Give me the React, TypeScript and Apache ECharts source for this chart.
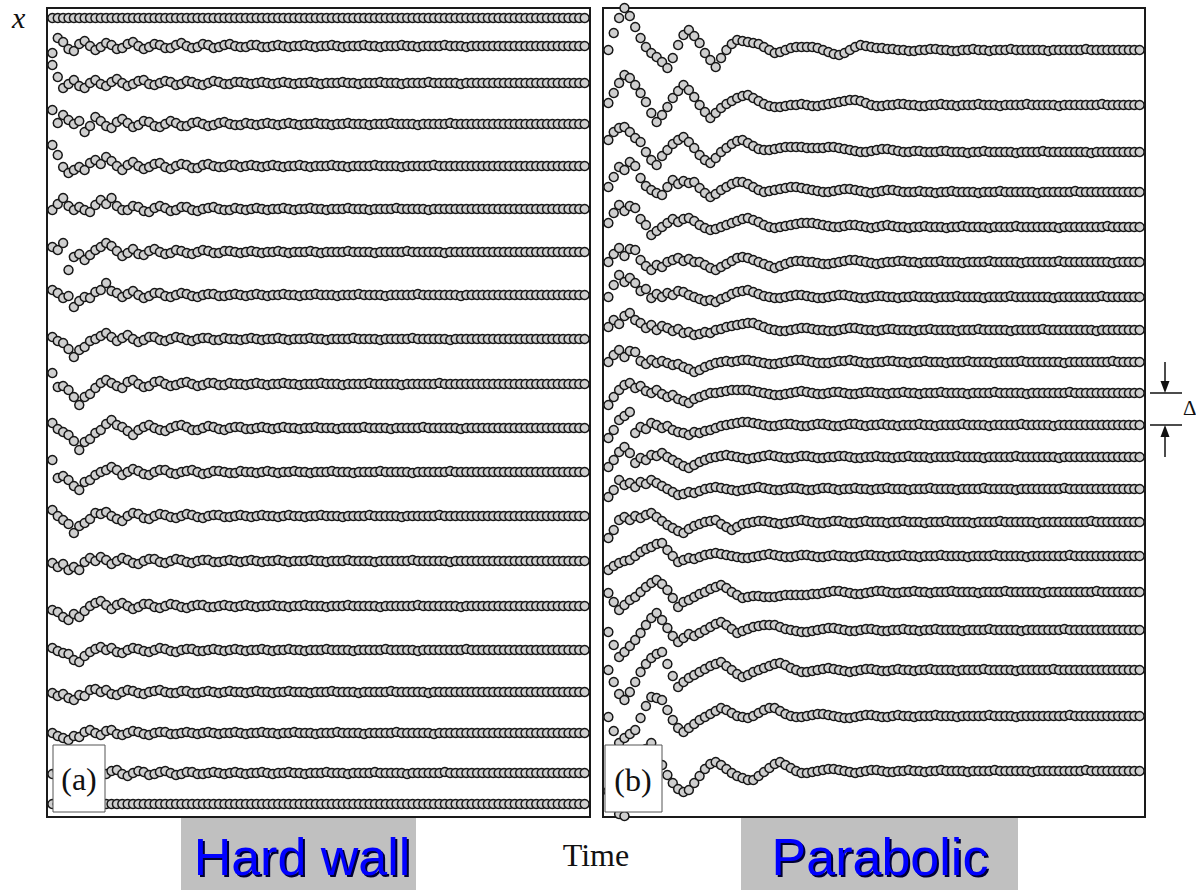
import { useEffect, useRef } from "react";
import * as echarts from "echarts";

// ---------- data ----------
// time steps 0..99 (arbitrary units)
const TIME_STEPS = 100;

// equilibrium position of each particle (position units, measured from the top of the panel)
const hardWallBaselines = [10, 38, 75, 116, 158, 201, 244, 287, 331, 376, 420, 464, 508, 553, 598, 642, 684, 725, 765, 796];
const parabolicBaselines = [42, 97, 144, 184, 219, 254, 289, 322, 354, 385, 417, 449, 481, 514, 548, 584, 622, 662, 708, 763];

// displacement of each particle from its equilibrium position at every time step
const hw01 = [
  0,0,0,0,0,0,0,0,0,0,0,0,0,0,0,0,0,0,0,0,
  0,0,0,0,0,0,0,0,0,0,0,0,0,0,0,0,0,0,0,0,
  0,0,0,0,0,0,0,0,0,0,0,0,0,0,0,0,0,0,0,0,
  0,0,0,0,0,0,0,0,0,0,0,0,0,0,0,0,0,0,0,0,
  0,0,0,0,0,0,0,0,0,0,0,0,0,0,0,0,0,0,0,0];
const hw02 = [
  7,-8,-4,3,5,-2,-5,0,4,1,-3,-1,3,2,-2,-4,0,3,1,-2,
  -1,2,2,-1,-3,0,2,1,-2,-1,2,1,-1,-2,0,1,1,-1,-1,1,
  1,0,-1,0,1,0,0,-1,0,1,0,0,-1,0,1,0,0,0,-1,0,
  0,1,0,0,0,-1,0,0,1,0,0,0,0,-1,0,0,0,1,0,0,
  0,0,0,0,0,0,0,0,0,0,0,0,0,0,0,0,0,0,0,0];
const hw03 = [
  -18,-6,5,1,-3,3,5,0,-3,1,3,-1,-4,0,3,1,-2,-3,1,2,
  0,-2,-1,2,1,-2,-1,1,2,0,-2,-1,1,1,-1,-1,0,1,0,-1,
  0,1,0,-1,0,1,0,0,-1,0,1,0,0,0,-1,0,0,1,0,0,
  0,-1,0,0,0,1,0,0,0,0,-1,0,0,0,0,0,1,0,0,0,
  0,0,0,0,0,0,0,0,0,0,0,0,0,0,0,0,0,0,0,0];
const hw04 = [
  -14,-1,-9,-4,0,-3,8,2,-7,-3,2,4,-2,-5,-1,3,1,-3,-2,2,
  3,0,-3,-1,2,2,-1,-2,0,2,1,-1,-2,0,1,1,-1,0,1,0,
  -1,0,1,0,-1,0,1,0,0,-1,0,0,1,0,0,-1,0,0,0,1,
  0,0,0,-1,0,0,0,0,1,0,0,0,0,0,-1,0,0,0,0,0,
  0,0,0,0,0,0,0,0,0,0,0,0,0,0,0,0,0,0,0,0];
const hw05 = [
  -21,-11,1,7,4,1,4,-3,-6,-2,-9,-5,0,4,-1,-4,0,3,1,-2,
  -3,1,3,0,-2,-1,2,2,-1,-2,0,1,1,-1,-1,1,0,-1,0,1,
  0,-1,0,1,0,0,-1,0,1,0,0,0,-1,0,0,1,0,0,0,0,
  -1,0,0,0,0,1,0,0,0,0,0,-1,0,0,0,0,0,0,0,0,
  0,0,0,0,0,0,0,0,0,0,0,0,0,0,0,0,0,0,0,0];
const hw06 = [
  1,-5,-11,-3,1,-2,1,3,-4,-9,-5,-11,-3,1,1,-3,-2,2,3,-1,
  -3,-1,2,1,-2,-2,1,2,0,-1,-2,0,1,1,-1,0,1,0,-1,0,
  1,0,0,-1,0,1,0,0,-1,0,0,1,0,0,0,-1,0,0,0,1,
  0,0,0,0,-1,0,0,0,0,0,1,0,0,0,0,0,0,0,0,0,
  0,0,0,0,0,0,0,0,0,0,0,0,0,0,0,0,0,0,0,0];
const hw07 = [
  -5,-2,-9,18,5,2,8,3,-2,-5,-9,-6,-1,4,1,-3,2,3,-1,-3,
  0,2,1,-2,-1,1,2,0,-2,-1,1,1,-1,-1,0,1,0,-1,0,1,
  0,0,-1,0,1,0,0,0,-1,0,1,0,0,0,0,-1,0,0,0,0,
  1,0,0,0,0,0,-1,0,0,0,0,0,0,1,0,0,0,0,0,0,
  0,0,0,0,0,0,0,0,0,0,0,0,0,0,0,0,0,0,0,0];
const hw08 = [
  -5,-2,3,1,12,6,2,3,-3,-5,-12,-4,-2,2,-1,-4,0,3,1,-2,
  -2,1,2,0,-2,-1,1,2,0,-1,-1,1,1,0,-1,0,1,0,-1,0,
  1,0,0,-1,0,0,1,0,0,-1,0,0,0,1,0,0,0,-1,0,0,
  0,0,1,0,0,0,0,0,-1,0,0,0,0,0,0,0,1,0,0,0,
  0,0,0,0,0,0,0,0,0,0,0,0,0,0,0,0,0,0,0,0];
const hw09 = [
  -2,2,4,10,18,11,8,2,0,-3,-6,-2,2,-1,-4,0,3,1,-2,-2,
  1,2,0,-2,-1,1,2,0,-1,-1,1,1,-1,0,0,1,0,-1,0,1,
  0,0,-1,0,1,0,0,0,-1,0,0,1,0,0,0,0,-1,0,0,0,
  0,1,0,0,0,0,0,-1,0,0,0,0,0,0,1,0,0,0,0,0,
  0,0,0,0,0,0,0,0,0,0,0,0,0,0,0,0,0,0,0,0];
const hw10 = [
  -11,3,2,6,13,21,13,10,4,-1,-4,-1,2,4,-2,-4,0,3,2,-2,
  -3,0,2,1,-1,-2,0,2,1,-1,-1,1,1,-1,0,0,1,0,-1,0,
  1,0,0,-1,0,0,1,0,0,0,-1,0,0,0,1,0,0,0,0,-1,
  0,0,0,0,0,1,0,0,0,0,0,0,-1,0,0,0,0,0,0,0,
  0,0,0,0,0,0,0,0,0,0,0,0,0,0,0,0,0,0,0,0];
const hw11 = [
  -5,1,4,7,13,22,14,11,5,2,-4,-8,-3,-1,3,7,2,-1,-3,0,
  2,3,0,-2,-3,-1,2,2,0,-2,-1,1,2,0,-1,-1,1,1,0,-1,
  0,1,0,-1,0,0,1,0,0,-1,0,0,0,1,0,0,0,0,-1,0,
  0,0,0,1,0,0,0,0,0,-1,0,0,0,0,0,0,1,0,0,0,
  0,0,0,0,0,0,0,0,0,0,0,0,0,0,0,0,0,0,0,0];
const hw12 = [
  -12,6,4,8,14,18,10,8,3,0,-2,-5,-2,3,0,-3,-1,2,3,0,
  -2,-2,1,2,0,-1,-2,0,2,1,-1,-1,0,1,1,-1,0,0,1,0,
  -1,0,1,0,0,-1,0,0,1,0,0,0,-1,0,0,0,1,0,0,0,
  0,-1,0,0,0,0,0,1,0,0,0,0,0,0,-1,0,0,0,0,0,
  0,0,0,0,0,0,0,0,0,0,0,0,0,0,0,0,0,0,0,0];
const hw13 = [
  -6,0,4,8,17,10,7,3,-3,-2,-4,0,3,5,0,-3,-2,2,3,0,
  -2,-1,1,2,0,-2,-1,1,2,0,-1,-1,1,1,0,-1,0,1,0,-1,
  0,0,1,0,-1,0,0,1,0,0,-1,0,0,0,1,0,0,0,0,-1,
  0,0,0,0,0,1,0,0,0,0,0,0,-1,0,0,0,0,0,0,0,
  0,0,0,0,0,0,0,0,0,0,0,0,0,0,0,0,0,0,0,0];
const hw14 = [
  2,6,3,9,6,9,1,-3,0,-4,-1,3,0,-3,-1,2,3,0,-2,-2,
  1,2,0,-2,-1,1,2,0,-1,-1,1,1,0,-1,0,1,0,-1,0,1,
  0,0,-1,0,1,0,0,0,-1,0,0,1,0,0,0,-1,0,0,0,0,
  1,0,0,0,0,0,0,-1,0,0,0,0,0,0,1,0,0,0,0,0,
  0,0,0,0,0,0,0,0,0,0,0,0,0,0,0,0,0,0,0,0];
const hw15 = [
  4,6,11,14,8,11,5,0,-3,-5,-1,3,-1,-3,0,3,1,-2,-2,1,
  2,0,-2,-1,1,2,0,-1,-1,1,1,0,-1,0,1,0,-1,0,1,0,
  0,-1,0,0,1,0,0,-1,0,0,0,1,0,0,0,-1,0,0,0,0,
  0,1,0,0,0,0,0,0,-1,0,0,0,0,0,0,0,1,0,0,0,
  0,0,0,0,0,0,0,0,0,0,0,0,0,0,0,0,0,0,0,0];
const hw16 = [
  -2,1,3,4,10,12,6,2,-1,-3,0,-2,2,3,0,-2,-1,1,2,0,
  -2,-1,1,2,0,-1,-1,1,1,0,-1,0,1,0,-1,0,1,0,0,-1,
  0,1,0,0,-1,0,0,1,0,0,0,-1,0,0,0,0,1,0,0,0,
  0,0,-1,0,0,0,0,0,1,0,0,0,0,0,0,0,0,-1,0,0,
  0,0,0,0,0,0,0,0,0,0,0,0,0,0,0,0,0,0,0,0];
const hw17 = [
  1,4,2,6,8,3,4,-2,-3,0,-2,2,3,0,-2,-1,1,2,0,-1,
  -2,0,1,1,-1,-1,1,1,0,-1,0,1,0,-1,0,0,1,0,-1,0,
  0,1,0,0,-1,0,0,0,1,0,0,0,-1,0,0,0,0,1,0,0,
  0,0,0,-1,0,0,0,0,0,0,1,0,0,0,0,0,0,0,0,0,
  0,0,0,0,0,0,0,0,0,0,0,0,0,0,0,0,0,0,0,0];
const hw18 = [
  0,3,5,7,3,4,-1,-3,0,2,-2,-3,1,2,0,-2,-1,1,2,0,
  -1,-1,1,1,0,-1,0,1,0,-1,0,1,0,0,-1,0,1,0,0,-1,
  0,0,1,0,0,-1,0,0,0,1,0,0,0,-1,0,0,0,0,1,0,
  0,0,0,0,-1,0,0,0,0,0,0,1,0,0,0,0,0,0,0,0,
  0,0,0,0,0,0,0,0,0,0,0,0,0,0,0,0,0,0,0,0];
const hw19 = [
  1,-2,3,-3,2,4,0,-3,-1,3,1,-2,-3,1,3,0,-2,-1,2,1,
  -1,-2,0,2,1,-1,-1,1,1,0,-1,0,1,0,-1,0,1,0,0,-1,
  0,1,0,0,-1,0,0,1,0,0,0,-1,0,0,0,1,0,0,0,0,
  -1,0,0,0,0,0,1,0,0,0,0,0,0,-1,0,0,0,0,0,0,
  0,0,0,0,0,0,0,0,0,0,0,0,0,0,0,0,0,0,0,0];
const hw20 = [
  0,0,0,0,0,0,0,0,0,0,0,0,0,0,0,0,0,0,0,0,
  0,0,0,0,0,0,0,0,0,0,0,0,0,0,0,0,0,0,0,0,
  0,0,0,0,0,0,0,0,0,0,0,0,0,0,0,0,0,0,0,0,
  0,0,0,0,0,0,0,0,0,0,0,0,0,0,0,0,0,0,0,0,
  0,0,0,0,0,0,0,0,0,0,0,0,0,0,0,0,0,0,0,0];

const pb01 = [
  0,-17,-32,-42,-34,-23,-12,-3,3,7,12,18,8,-5,-15,-20,-14,-7,3,10,
  17,8,0,-6,-10,-9,-8,-7,-6,-3,0,3,2,0,-2,-3,-3,-3,-3,-2,
  0,2,4,5,3,0,-3,-5,-4,-3,-2,-2,-1,-1,0,0,1,1,0,0,
  -1,-1,0,0,1,1,0,0,-1,0,0,1,0,0,0,-1,0,0,0,0,
  0,0,1,0,0,0,0,0,0,-1,0,0,0,0,0,0,0,0,0,0];
const pb02 = [
  -2,-12,-22,-30,-27,-20,-12,-3,8,17,10,2,-7,-14,-20,-15,-8,0,7,13,
  8,3,-1,-4,-7,-9,-10,-7,-4,-1,1,2,2,1,0,0,-1,0,1,1,
  0,-1,-2,-3,-4,-5,-5,-4,-2,0,1,1,0,0,-1,-1,0,0,1,1,
  0,0,-1,0,0,1,0,0,0,-1,0,0,0,1,0,0,0,0,-1,0,
  0,0,0,0,1,0,0,0,0,0,0,0,-1,0,0,0,0,0,0,0];
const pb03 = [
  -12,-20,-24,-25,-20,-14,-10,0,8,13,4,-2,-8,-12,-15,-10,-4,3,8,11,
  6,0,-4,-8,-11,-12,-9,-6,-3,-2,-2,-3,-4,-5,-5,-5,-5,-4,-4,-4,
  -4,-5,-5,-4,-3,-2,-1,0,0,-1,-2,-3,-3,-2,-1,0,0,-1,-1,0,
  0,0,-1,-1,0,0,0,1,0,0,-1,0,0,0,0,0,1,0,0,0,
  0,-1,0,0,0,0,0,0,0,0,1,0,0,0,0,0,0,0,0,0];
const pb04 = [
  -5,-15,-25,-22,-30,-26,-14,-6,-2,1,3,-5,-12,-8,-11,-9,-10,-4,1,5,
  2,-2,-5,-8,-10,-10,-8,-5,-2,0,-1,-2,-3,-4,-5,-5,-4,-3,-2,-1,
  0,0,-1,-2,-3,-3,-2,-1,0,1,0,-1,-2,-2,-1,0,0,0,-1,0,
  0,1,0,0,-1,0,0,0,0,1,0,0,0,-1,0,0,0,0,0,0,
  1,0,0,0,0,0,0,-1,0,0,0,0,0,0,0,0,0,0,0,0];
const pb05 = [
  -4,-14,-22,-16,-21,-19,-8,-2,8,4,0,-4,-8,-5,-8,-9,-6,-2,1,3,
  2,0,-2,-4,-6,-8,-9,-7,-5,-2,0,1,0,-1,-2,-3,-4,-4,-4,-3,
  -2,-1,0,0,-1,-2,-2,-1,0,1,0,-1,-2,-1,0,0,1,0,0,-1,
  0,0,0,1,0,0,-1,0,0,0,0,1,0,0,0,0,-1,0,0,0,
  0,0,0,0,1,0,0,0,0,0,0,0,0,-1,0,0,0,0,0,0];
const pb06 = [
  0,-8,-14,-6,-13,-12,-2,4,8,3,5,0,-2,-4,-1,-3,0,0,3,6,
  8,5,2,-1,-4,-5,-4,-2,0,2,4,6,4,2,0,-1,-1,0,0,1,
  2,2,1,0,-1,-2,-2,-1,0,1,2,1,0,0,-1,-1,0,0,1,0,
  0,0,-1,0,0,0,1,0,0,0,0,-1,0,0,0,0,0,1,0,0,
  0,0,0,0,-1,0,0,0,0,0,0,0,0,0,1,0,0,0,0,0];
const pb07 = [
  0,-12,-22,-15,-19,-14,-6,-8,1,-3,0,-4,-2,-6,-5,-2,0,2,4,3,
  5,2,0,-3,-5,-6,-7,-5,-3,-1,0,1,1,0,-1,-2,-2,-1,0,1,
  1,0,-1,-2,-2,-1,0,1,1,0,-1,-1,0,0,1,0,0,-1,0,0,
  0,1,0,0,0,-1,0,0,0,0,1,0,0,0,0,-1,0,0,0,0,
  0,0,0,1,0,0,0,0,0,0,0,0,-1,0,0,0,0,0,0,0];
const pb08 = [
  -3,-10,-6,-14,-17,-10,-7,-2,-5,0,-4,-2,1,-1,3,2,5,4,2,3,
  0,-1,-3,-4,-5,-6,-7,-7,-5,-3,-1,0,1,1,0,-1,-2,-2,-1,0,
  0,1,1,0,-1,-2,-2,-1,0,0,1,0,-1,-1,0,0,0,1,0,0,
  -1,0,0,0,0,1,0,0,0,-1,0,0,0,0,0,1,0,0,0,0,
  0,-1,0,0,0,0,0,0,0,0,0,1,0,0,0,0,0,0,0,0];
const pb09 = [
  0,-7,-12,-5,-11,-10,-1,2,-2,1,-1,1,3,2,5,7,10,8,5,3,
  1,0,-1,0,-1,-2,-2,-1,0,1,2,2,1,0,-1,-2,-2,-1,0,1,
  1,1,0,-1,-1,-2,-1,0,1,1,0,0,-1,-1,0,0,1,0,0,-1,
  0,0,0,1,0,0,0,-1,0,0,0,0,1,0,0,0,0,-1,0,0,
  0,0,0,0,0,1,0,0,0,0,0,0,0,0,-1,0,0,0,0,0];
const pb10 = [
  12,4,-3,-8,-10,-5,-7,-2,0,-3,1,4,2,6,8,10,6,4,2,0,
  0,-1,-2,-3,-3,-3,-3,-2,-1,0,1,2,2,1,0,-1,-2,-1,0,1,
  1,0,-1,-1,0,1,1,0,-1,-1,0,0,1,0,0,-1,0,0,1,0,
  0,0,-1,0,0,0,0,1,0,0,0,0,-1,0,0,0,0,0,1,0,
  0,0,0,0,0,0,-1,0,0,0,0,0,0,0,0,0,0,0,0,0];
const pb11 = [
  13,5,-5,-9,-13,8,2,4,-2,0,3,1,5,7,8,10,7,8,6,5,
  3,1,0,-1,-2,-3,-3,-2,-1,0,1,1,0,-1,-1,0,1,1,0,-1,
  -1,0,1,1,0,-1,-1,0,1,0,0,-1,0,0,1,0,0,0,-1,0,
  0,1,0,0,0,0,-1,0,0,0,0,1,0,0,0,0,0,-1,0,0,
  0,0,0,1,0,0,0,0,0,0,0,0,0,0,0,0,0,0,0,0];
const pb12 = [
  10,3,-5,-10,-4,6,1,3,-2,-1,-4,0,3,6,9,11,8,5,3,1,
  0,-1,-2,-1,0,1,2,1,0,-1,-2,-1,0,1,1,0,-1,-1,0,1,
  1,0,0,-1,-1,0,1,1,0,0,-1,0,0,1,0,0,-1,0,0,0,
  1,0,0,0,0,-1,0,0,0,0,1,0,0,0,0,0,-1,0,0,0,
  0,0,0,0,1,0,0,0,0,0,0,0,0,0,0,0,0,0,0,0];
const pb13 = [
  8,1,-9,-4,-6,-2,-7,-5,-9,-6,-3,0,3,6,5,3,4,2,0,-1,
  -2,-1,0,1,2,1,0,-1,-2,-1,0,1,1,0,-1,-1,0,1,1,0,
  -1,-1,0,1,0,0,-1,0,0,1,0,0,-1,0,0,0,1,0,0,0,
  -1,0,0,0,0,1,0,0,0,0,-1,0,0,0,0,0,1,0,0,0,
  0,0,0,0,0,-1,0,0,0,0,0,0,0,0,0,0,0,0,0,0];
const pb14 = [
  16,8,-2,-5,-2,-6,-4,-7,-9,-5,-1,3,6,9,11,7,4,2,0,-1,
  -2,2,5,8,5,2,1,0,-1,-1,0,1,2,1,0,-1,-2,-1,0,1,
  1,0,-1,-1,0,1,1,0,-1,0,0,0,1,0,0,-1,0,0,0,1,
  0,0,0,-1,0,0,0,0,1,0,0,0,0,-1,0,0,0,0,0,0,
  1,0,0,0,0,0,0,0,0,0,-1,0,0,0,0,0,0,0,0,0];
const pb15 = [
  14,10,7,5,4,0,-4,-7,-9,-12,-13,-6,0,6,4,2,3,1,-1,-2,
  -3,-2,-1,0,1,2,2,1,0,-1,-2,-1,0,1,1,0,-1,-1,0,1,
  1,0,-1,0,0,1,1,0,-1,-1,0,0,1,0,0,-1,0,0,1,0,
  0,0,-1,0,0,0,0,1,0,0,0,0,-1,0,0,0,0,0,1,0,
  0,0,0,0,0,0,-1,0,0,0,0,0,0,0,0,0,0,0,0,0];
const pb16 = [
  1,10,18,13,8,5,0,-5,-9,-12,-8,-2,6,15,10,8,5,2,0,-3,
  -5,-7,-4,0,3,6,5,4,4,5,5,5,4,3,3,3,3,3,2,2,
  1,0,-1,-1,0,1,2,2,1,0,-1,-1,0,1,1,0,0,-1,0,0,
  1,0,0,0,-1,0,0,0,0,1,0,0,0,0,-1,0,0,0,0,0,
  0,1,0,0,0,0,0,0,0,0,0,-1,0,0,0,0,0,0,0,0];
const pb17 = [
  2,15,27,22,16,10,3,-5,-12,-17,-10,-2,6,12,8,4,6,3,0,-3,
  -6,-8,-5,-1,3,1,-1,-3,-4,-5,-5,-5,-3,-1,0,1,2,2,1,0,
  -1,-2,-2,-1,0,1,1,0,-1,-1,0,1,1,0,0,-1,0,0,1,0,
  0,-1,0,0,0,0,1,0,0,0,0,-1,0,0,0,0,0,1,0,0,
  0,0,0,0,0,-1,0,0,0,0,0,0,0,0,0,0,0,0,0,0];
const pb18 = [
  0,12,24,30,22,12,2,-6,-12,-16,-18,-6,6,17,12,8,5,2,-1,-4,
  -6,-8,-4,0,4,7,5,2,0,-2,-4,-6,-7,-5,-2,0,2,2,1,0,
  -1,-2,-1,0,1,2,1,0,-1,-1,0,1,1,0,-1,0,0,1,0,0,
  -1,0,0,0,0,1,0,0,0,0,-1,0,0,0,0,0,1,0,0,0,
  0,0,0,-1,0,0,0,0,0,0,0,0,0,0,0,0,0,0,0,0];
const pb19 = [
  1,15,27,22,18,14,2,-10,-19,-18,-16,-6,4,12,16,12,8,4,1,-2,
  -5,-8,-6,-3,0,1,2,0,-3,-6,-8,-8,-5,-2,0,1,1,0,-1,-2,
  -2,-1,0,1,2,2,1,0,-1,-1,0,1,1,0,-1,0,0,1,0,0,
  0,-1,0,0,0,1,0,0,0,0,0,-1,0,0,0,0,1,0,0,0,
  0,0,0,0,0,0,-1,0,0,0,0,0,0,0,0,0,0,0,0,0];
const pb20 = [
  20,35,43,45,30,10,-10,-22,-28,-20,-6,4,12,18,21,19,12,5,-2,-7,
  -9,-6,-2,2,5,7,9,9,5,1,-3,-7,-9,-6,-3,0,2,2,1,0,
  -1,-2,-2,-1,0,1,2,1,0,-1,-1,0,1,1,0,0,-1,0,0,1,
  0,0,-1,0,0,0,0,1,0,0,0,0,-1,0,0,0,0,0,0,1,
  0,0,0,0,0,0,0,0,0,-1,0,0,0,0,0,0,0,0,0,0];

const hardWallOffsets = [hw01, hw02, hw03, hw04, hw05, hw06, hw07, hw08, hw09, hw10,
  hw11, hw12, hw13, hw14, hw15, hw16, hw17, hw18, hw19, hw20];
const parabolicOffsets = [pb01, pb02, pb03, pb04, pb05, pb06, pb07, pb08, pb09, pb10,
  pb11, pb12, pb13, pb14, pb15, pb16, pb17, pb18, pb19, pb20];

const panelLabels = ["(a)", "(b)"];
const trapLabels = ["Hard wall", "Parabolic"];
const timeLabel = "Time";
const positionLabel = "x";
const spacingLabel = "\u0394";

// ---------- chart ----------
const POSITION_RANGE = 809;

function buildSeries(baselines: number[], offsets: number[][], gridIndex: number) {
  return offsets.map((track, i) => ({
    type: "scatter",
    xAxisIndex: gridIndex,
    yAxisIndex: gridIndex,
    symbol: "circle",
    symbolSize: 9,
    clip: false,
    silent: true,
    itemStyle: { color: "#cfcfcf", borderColor: "#161616", borderWidth: 1.5, opacity: 1 },
    data: track.map((d, t) => [t, baselines[i] + d]),
  }));
}

export default function App() {
  const ref = useRef<HTMLDivElement>(null);

  useEffect(() => {
    document.body.style.margin = "0";
    if (!ref.current) return;
    const chart = echarts.init(ref.current, undefined, { renderer: "svg" });
    const serif = '"Liberation Serif", "DejaVu Serif", serif';
    const sans = '"Liberation Sans", Arial, sans-serif';

    const xAxisBase = { type: "value", min: -1, max: TIME_STEPS, show: false };
    const yAxisBase = { type: "value", min: 0, max: POSITION_RANGE, inverse: true, show: false };

    const option: any = {
      animation: false,
      backgroundColor: "#ffffff",
      grid: [
        { left: 47, top: 8, width: 543, height: 809, show: true, borderColor: "#1a1a1a", borderWidth: 2, backgroundColor: "transparent" },
        { left: 603, top: 8, width: 542, height: 809, show: true, borderColor: "#1a1a1a", borderWidth: 2, backgroundColor: "transparent" },
      ],
      xAxis: [
        { ...xAxisBase, gridIndex: 0 },
        { ...xAxisBase, gridIndex: 1 },
      ],
      yAxis: [
        { ...yAxisBase, gridIndex: 0 },
        { ...yAxisBase, gridIndex: 1 },
      ],
      series: [
        ...buildSeries(hardWallBaselines, hardWallOffsets, 0),
        ...buildSeries(parabolicBaselines, parabolicOffsets, 1),
      ],
      graphic: [
        // axis name x
        { type: "text", x: 12, y: 17, z: 100, style: { text: positionLabel, font: `italic 30px ${serif}`, fill: "#111", textAlign: "left", textVerticalAlign: "middle" } },
        // panel labels
        { type: "rect", z: 100, shape: { x: 53, y: 745, width: 52, height: 67 }, style: { fill: "#fff", stroke: "#555", lineWidth: 1 } },
        { type: "text", x: 79, y: 779, z: 101, style: { text: panelLabels[0], font: `32px ${serif}`, fill: "#111", textAlign: "center", textVerticalAlign: "middle" } },
        { type: "rect", z: 100, shape: { x: 605, y: 745, width: 57, height: 67 }, style: { fill: "#fff", stroke: "#555", lineWidth: 1 } },
        { type: "text", x: 633, y: 780, z: 101, style: { text: panelLabels[1], font: `32px ${serif}`, fill: "#111", textAlign: "center", textVerticalAlign: "middle" } },
        // Time label
        { type: "text", x: 596, y: 855, z: 100, style: { text: timeLabel, font: `32px ${serif}`, fill: "#111", textAlign: "center", textVerticalAlign: "middle" } },
        // trap labels
        { type: "rect", z: 100, shape: { x: 181, y: 818, width: 235, height: 72 }, style: { fill: "#c0c0c0" } },
        { type: "text", x: 304, y: 859, z: 101, style: { text: trapLabels[0], font: `52px ${sans}`, fill: "#000033", textAlign: "center", textVerticalAlign: "middle" } },
        { type: "text", x: 302, y: 857, z: 102, style: { text: trapLabels[0], font: `52px ${sans}`, fill: "#0000ff", textAlign: "center", textVerticalAlign: "middle" } },
        { type: "rect", z: 100, shape: { x: 741, y: 818, width: 277, height: 72 }, style: { fill: "#c0c0c0" } },
        { type: "text", x: 882, y: 859, z: 101, style: { text: trapLabels[1], font: `52px ${sans}`, fill: "#000033", textAlign: "center", textVerticalAlign: "middle" } },
        { type: "text", x: 880, y: 857, z: 102, style: { text: trapLabels[1], font: `52px ${sans}`, fill: "#0000ff", textAlign: "center", textVerticalAlign: "middle" } },
        // spacing annotation
        { type: "line", z: 100, shape: { x1: 1150, y1: 393, x2: 1182, y2: 393 }, style: { stroke: "#111", lineWidth: 1.5 } },
        { type: "line", z: 100, shape: { x1: 1150, y1: 425, x2: 1182, y2: 425 }, style: { stroke: "#111", lineWidth: 1.5 } },
        { type: "line", z: 100, shape: { x1: 1165, y1: 362, x2: 1165, y2: 384 }, style: { stroke: "#111", lineWidth: 1.5 } },
        { type: "polygon", z: 100, shape: { points: [[1160.5, 381], [1169.5, 381], [1165, 393]] }, style: { fill: "#111" } },
        { type: "line", z: 100, shape: { x1: 1165, y1: 434, x2: 1165, y2: 457 }, style: { stroke: "#111", lineWidth: 1.5 } },
        { type: "polygon", z: 100, shape: { points: [[1160.5, 437], [1169.5, 437], [1165, 425]] }, style: { fill: "#111" } },
        { type: "text", x: 1183, y: 408, z: 100, style: { text: spacingLabel, font: `21px ${serif}`, fill: "#111", textAlign: "left", textVerticalAlign: "middle" } },
      ],
    };
    chart.setOption(option);
    return () => chart.dispose();
  }, []);

  return <div ref={ref} style={{ width: 1196, height: 890 }} />;
}
